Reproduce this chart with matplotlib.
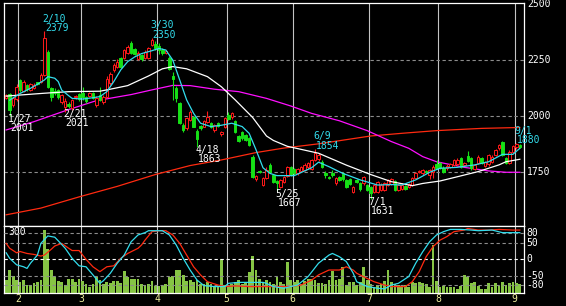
import matplotlib
matplotlib.use("Agg")
import matplotlib.pyplot as plt
from matplotlib.patches import Rectangle
from matplotlib.transforms import offset_copy, blended_transform_factory

# daily candles 2022/01/26 .. 2022/09/02, index 0..148
opens = [
    2080, 2098, 2050, 2078, 2162, 2115, 2140, 2118, 2125, 2152,
    2152, 2184, 2288, 2125, 2115, 2117, 2062, 2040, 2055, 2038,
    2085, 2100, 2103, 2088, 2090, 2103, 2050, 2095, 2062, 2088,
    2150, 2207, 2221, 2262, 2260, 2282, 2327, 2299, 2255, 2275,
    2260, 2260, 2318, 2325, 2312, 2298, 2281, 2262, 2180, 2125,
    2061, 1961, 1946, 1984, 1996, 1936, 1957, 1954, 1976, 1968,
    1939, 1968, 1919, 1954, 2005, 1995, 1980, 1912, 1931, 1916,
    1902, 1820, 1719, 1756, 1693, 1723, 1782, 1738, 1712, 1686,
    1708, 1733, 1772, 1765, 1745, 1757, 1760, 1772, 1763, 1805,
    1808, 1798, 1748, 1730, 1745, 1701, 1730, 1748, 1716, 1719,
    1664, 1716, 1701, 1701, 1693, 1686, 1664, 1664, 1671, 1671,
    1693, 1698, 1711, 1671, 1676, 1690, 1686, 1693, 1723, 1750,
    1745, 1756, 1738, 1750, 1786, 1790, 1771, 1768, 1775, 1783,
    1786, 1812, 1783, 1824, 1812, 1765, 1790, 1815, 1780, 1786,
    1795, 1827, 1857, 1887, 1812, 1790, 1840, 1862, 1872]
highs = [
    2100, 2105, 2085, 2145, 2165, 2160, 2145, 2150, 2150, 2155,
    2195, 2379, 2295, 2130, 2125, 2120, 2100, 2080, 2062, 2078,
    2095, 2105, 2133, 2092, 2110, 2108, 2090, 2133, 2095, 2178,
    2200, 2240, 2255, 2265, 2300, 2318, 2335, 2305, 2290, 2280,
    2295, 2308, 2350, 2335, 2327, 2305, 2298, 2268, 2199, 2135,
    2065, 1968, 1995, 2030, 2000, 1942, 1962, 1985, 2024, 1975,
    1965, 1975, 1935, 1995, 2020, 2018, 1985, 1918, 1935, 1920,
    1906, 1826, 1740, 1762, 1728, 1772, 1790, 1742, 1716, 1720,
    1735, 1780, 1778, 1770, 1768, 1780, 1790, 1795, 1810, 1854,
    1835, 1803, 1755, 1735, 1760, 1728, 1735, 1752, 1720, 1725,
    1690, 1722, 1706, 1735, 1698, 1690, 1698, 1712, 1700, 1706,
    1722, 1725, 1716, 1698, 1700, 1695, 1702, 1730, 1750, 1762,
    1765, 1762, 1765, 1782, 1805, 1795, 1776, 1785, 1792, 1810,
    1812, 1818, 1796, 1845, 1816, 1788, 1826, 1820, 1802, 1832,
    1826, 1856, 1878, 1890, 1816, 1848, 1872, 1880, 1875]
lows = [
    2075, 2001, 2040, 2070, 2110, 2110, 2115, 2112, 2120, 2138,
    2148, 2180, 2125, 2070, 2095, 2075, 2055, 2021, 2035, 2030,
    2078, 2070, 2073, 2060, 2085, 2075, 2040, 2068, 2055, 2080,
    2140, 2200, 2215, 2215, 2255, 2278, 2278, 2275, 2250, 2248,
    2255, 2255, 2312, 2295, 2280, 2275, 2278, 2205, 2073, 2065,
    1965, 1932, 1940, 1978, 1950, 1863, 1940, 1950, 1970, 1948,
    1930, 1950, 1912, 1948, 1985, 1990, 1925, 1884, 1895, 1888,
    1866, 1724, 1712, 1745, 1688, 1718, 1748, 1702, 1667, 1680,
    1702, 1728, 1735, 1740, 1740, 1752, 1755, 1765, 1758, 1800,
    1800, 1770, 1723, 1718, 1730, 1695, 1710, 1712, 1678, 1692,
    1658, 1700, 1668, 1695, 1665, 1631, 1658, 1658, 1665, 1666,
    1688, 1692, 1666, 1666, 1670, 1670, 1680, 1688, 1718, 1745,
    1740, 1745, 1720, 1725, 1766, 1765, 1745, 1762, 1770, 1778,
    1780, 1770, 1778, 1795, 1762, 1760, 1785, 1785, 1775, 1780,
    1790, 1822, 1850, 1822, 1786, 1785, 1835, 1855, 1860]
closes = [
    2095, 2030, 2080, 2132, 2117, 2155, 2120, 2145, 2140, 2143,
    2184, 2348, 2132, 2088, 2103, 2088, 2095, 2070, 2045, 2072,
    2090, 2078, 2088, 2068, 2105, 2080, 2083, 2073, 2088, 2165,
    2190, 2229, 2244, 2222, 2296, 2311, 2282, 2280, 2281, 2255,
    2289, 2303, 2340, 2303, 2296, 2282, 2293, 2210, 2165, 2080,
    1972, 1940, 1991, 2021, 1954, 1897, 1946, 1980, 1995, 1954,
    1961, 1957, 1931, 1991, 1990, 2013, 1931, 1890, 1902, 1894,
    1872, 1730, 1733, 1750, 1723, 1760, 1753, 1708, 1700, 1716,
    1730, 1775, 1740, 1748, 1763, 1775, 1782, 1790, 1805, 1835,
    1827, 1775, 1738, 1723, 1738, 1723, 1716, 1718, 1683, 1698,
    1686, 1708, 1674, 1727, 1671, 1656, 1693, 1708, 1693, 1701,
    1716, 1718, 1671, 1693, 1693, 1676, 1698, 1726, 1745, 1754,
    1760, 1752, 1760, 1775, 1771, 1771, 1750, 1780, 1786, 1805,
    1805, 1775, 1790, 1800, 1768, 1783, 1820, 1790, 1797, 1827,
    1820, 1850, 1872, 1827, 1790, 1842, 1866, 1875, 1864]
volume = [
    67, 117, 84, 67, 55, 64, 38, 38, 50, 55,
    64, 315, 218, 117, 80, 60, 55, 38, 72, 72,
    55, 72, 60, 47, 30, 47, 80, 67, 47, 55,
    50, 59, 60, 50, 109, 80, 72, 72, 72, 47,
    38, 47, 59, 33, 33, 33, 47, 80, 84, 117,
    117, 89, 60, 64, 55, 64, 47, 47, 55, 47,
    37, 30, 168, 38, 37, 47, 55, 67, 47, 55,
    106, 184, 114, 72, 55, 64, 55, 47, 80, 55,
    47, 156, 64, 55, 64, 47, 59, 72, 72, 64,
    50, 50, 43, 64, 111, 67, 70, 130, 38, 55,
    55, 38, 55, 132, 67, 47, 30, 38, 47, 59,
    114, 55, 47, 38, 30, 38, 30, 55, 50, 55,
    50, 47, 30, 240, 60, 30, 33, 30, 30, 30,
    22, 33, 89, 80, 50, 55, 33, 22, 22, 50,
    30, 50, 33, 55, 38, 50, 55, 52, 47]

# moving averages (day index, price)
ma_short_idx = [1, 4, 7, 9, 11, 12, 14, 15, 16, 18, 19, 22, 25, 27, 29, 31, 33, 35, 37, 39,
                42, 44, 46, 48, 50, 52, 54, 56, 59, 62, 65, 68, 70, 72, 74, 76, 78, 83, 88, 90,
                93, 97, 102, 107, 111, 114, 118, 122, 125, 130, 135, 139, 143, 146, 148]
ma_short = [2072, 2102, 2125, 2143, 2162, 2177, 2170, 2155, 2117, 2092, 2080, 2077, 2083, 2088, 2110,
            2155, 2207, 2244, 2265, 2280, 2293, 2303, 2296, 2251, 2162, 2073, 2013, 1969, 1954, 1960,
            1969, 1954, 1924, 1850, 1770, 1745, 1735, 1735, 1770, 1795, 1775, 1745, 1716, 1693, 1695,
            1693, 1716, 1750, 1768, 1772, 1783, 1797, 1830, 1830, 1857]
ma_mid_idx = [0, 4, 11, 18, 27, 30, 35, 41, 45, 48, 52, 58, 62, 66, 71, 75, 77, 81, 90, 98,
              105, 111, 117, 120, 125, 130, 136, 142, 144, 148]
ma_mid = [2090, 2095, 2103, 2110, 2112, 2121, 2137, 2180, 2212, 2222, 2212, 2177, 2132, 2073, 1995,
          1912, 1892, 1866, 1835, 1782, 1740, 1708, 1690, 1700, 1711, 1730, 1753, 1783, 1797, 1808]
ma_long_idx = [0, 8, 18, 26, 36, 42, 48, 53, 60, 67, 75, 82, 88, 96, 104, 111, 116, 120, 124, 132,
               139, 144, 148]
ma_long = [1939, 1976, 2030, 2070, 2097, 2118, 2138, 2137, 2121, 2110, 2080, 2046, 2013, 1980, 1936,
           1887, 1857, 1820, 1797, 1772, 1756, 1750, 1750]
ma_200_idx = [0, 10, 21, 32, 43, 53, 62, 72, 80, 90, 105, 114, 124, 137, 148]
ma_200 = [1560, 1590, 1640, 1687, 1740, 1780, 1805, 1838, 1858, 1877, 1912, 1924, 1936, 1946, 1950]

# oscillator in lower panel (day index, value)
osc_a_idx = [0, 1, 3, 5, 6, 7, 9, 10, 12, 14, 15, 17, 19, 21, 23, 25, 27, 28, 30, 32,
             34, 36, 38, 40, 41, 45, 47, 49, 51, 53, 55, 57, 60, 63, 64, 67, 74, 75, 77, 80,
             84, 87, 90, 93, 94, 96, 98, 100, 101, 104, 107, 109, 111, 113, 116, 118, 120, 122, 124, 126,
             128, 131, 134, 136, 140, 143, 148]
osc_a = [20, 3, -17, -23, -28, -12, 13, 49, 72, 68, 57, 34, 3, -20, -23, -48, -74, -66, -43, -12,
         13, 54, 75, 82, 88, 88, 75, 44, 3, -33, -64, -81, -84, -84, -74, -71, -71, -74, -84, -89,
         -79, -53, -12, 13, 18, 8, -7, -43, -69, -84, -89, -91, -79, -74, -53, -12, 23, 54, 75, 85,
         92, 92, 90, 88, 90, 82, 82]
osc_b_idx = [0, 1, 3, 4, 6, 8, 10, 11, 13, 14, 16, 18, 19, 21, 23, 25, 27, 29, 31, 33,
             35, 38, 39, 40, 42, 44, 46, 48, 50, 52, 54, 56, 58, 61, 63, 66, 70, 82, 85, 88,
             90, 93, 96, 98, 100, 101, 104, 106, 109, 111, 115, 117, 119, 121, 123, 125, 127, 129, 132, 133,
             136, 139, 142, 146, 148]
osc_b = [49, 34, 20, 24, 18, 15, 10, 13, 31, 41, 49, 34, 27, 27, 0, -23, -38, -23, -20, 3,
         18, 34, 44, 59, 85, 88, 88, 75, 49, 13, -23, -48, -69, -79, -84, -82, -84, -84, -79, -64,
         -48, -33, -33, -23, -33, -43, -59, -69, -79, -84, -84, -69, -38, 8, 39, 59, 70, 85, 90, 95,
         90, 90, 92, 90, 90]

month_first = [4, 22, 44, 64, 83, 105, 125, 147]
month_names = ['2', '3', '4', '5', '6', '7', '8', '9']
price_ticks = [2500, 2250, 2000, 1750]
osc_ticks = [80, 50, 0, -50, -80]

hi_labels = [('2/10', 11, 2379), ('3/30', 42, 2350), ('6/9', 89, 1854), ('9/1', 147, 1880)]
lo_labels = [('1/27', 1, 2001), ('2/21', 17, 2021), ('4/18', 55, 1863), ('5/25', 78, 1667),
             ('7/1', 105, 1631)]

RED = '#ff1a1a'
GREEN = '#16e016'
CYAN = '#33dded'
FONT = 'DejaVu Sans Mono'

W, H = 566, 306
fig = plt.figure(figsize=(W / 100, H / 100), dpi=100, facecolor='black')


def px_axes(l, t, r, b):
    a = fig.add_axes([l / W, 1 - b / H, (r - l) / W, (b - t) / H])
    a.set_facecolor('black')
    a.set_xticks([])
    a.set_yticks([])
    for s in a.spines.values():
        s.set_color('white')
        s.set_linewidth(0.9)
    return a


ax = px_axes(4, 3, 524, 226)
ax2 = px_axes(4, 226, 524, 293)
xlim = (-0.63, 149.2)
ax.set_xlim(*xlim)
ax.set_ylim(1510, 2506)
ax2.set_xlim(*xlim)
ax2.set_ylim(0, 335)
osc = ax2.twinx()
osc.set_ylim(-103.7, 102.5)
osc.set_yticks([])
for s in osc.spines.values():
    s.set_visible(False)

# grid
for m in month_first:
    ax.axvline(m - 0.5, color='#c4c4c4', lw=0.8, zorder=1)
    ax2.axvline(m - 0.5, color='#c4c4c4', lw=0.8, zorder=1)
for p in price_ticks[1:]:
    ax.axhline(p, color='#8c8c8c', lw=0.8, dashes=(3, 2.4), zorder=1)
for v in osc_ticks:
    col = 'white' if v == 0 else '#8c8c8c'
    osc.axhline(v, color=col, lw=0.8, dashes=(3, 2.4), zorder=1)

# candles
bw = 0.72
for i in range(len(closes)):
    o, h, l, c = opens[i], highs[i], lows[i], closes[i]
    up = c >= o
    col = RED if up else GREEN
    ax.vlines(i, l, h, color=col, lw=0.8, zorder=3)
    bot = min(o, c)
    ht = max(abs(c - o), 3)
    ax.add_patch(Rectangle((i - bw / 2, bot), bw, ht, facecolor='black' if up else col,
                           edgecolor=col, lw=0.7, zorder=4))

# moving averages
ax.plot(ma_200_idx, ma_200, color='#ff2a10', lw=0.9, zorder=2)
ax.plot(ma_long_idx, ma_long, color='#ff10ff', lw=0.9, zorder=2)
ax.plot(ma_mid_idx, ma_mid, color='white', lw=0.9, zorder=5)
ax.plot(ma_short_idx, ma_short, color=CYAN, lw=0.9, zorder=5)

# volume and oscillator
ax2.bar(range(len(volume)), volume, width=0.8, color='#86c544', zorder=2)
osc.plot(osc_b_idx, osc_b, color='#ff2a10', lw=0.9, zorder=3)
osc.plot(osc_a_idx, osc_a, color=CYAN, lw=0.9, zorder=4)

# right side scale labels
tr = blended_transform_factory(ax.transAxes, ax.transData)
for p in price_ticks:
    ax.text(1.006, p, str(p), transform=tr, color='white', fontsize=7, family=FONT,
            va='center', ha='left', clip_on=False)
tr2 = blended_transform_factory(osc.transAxes, osc.transData)
for v in osc_ticks:
    osc.text(1.005, v, str(v), transform=tr2, color='white', fontsize=7, family=FONT,
             va='center', ha='left', clip_on=False)
ax2.text(0.008, 0.915, '300', transform=ax2.transAxes, color='white', fontsize=7, family=FONT,
         va='center', ha='left')

# month labels
trm = blended_transform_factory(ax2.transData, ax2.transAxes)
for m, name in zip(month_first, month_names):
    ax2.text(m - 0.5, -0.09, name, transform=trm, color='#f0f0a0', fontsize=7, family=FONT,
             va='center', ha='center', clip_on=False)

# high / low annotations
for date, i, p in hi_labels:
    t1 = offset_copy(ax.transData, fig=fig, x=-2, y=9.5, units='dots')
    t2 = offset_copy(ax.transData, fig=fig, x=0.5, y=0, units='dots')
    ax.text(i, p, date, transform=t1, color=CYAN, fontsize=7, family=FONT, va='baseline', zorder=6)
    ax.text(i, p, str(p), transform=t2, color=CYAN, fontsize=7, family=FONT, va='baseline', zorder=6)
for date, i, p in lo_labels:
    t1 = offset_copy(ax.transData, fig=fig, x=-2, y=-5.8, units='dots')
    t2 = offset_copy(ax.transData, fig=fig, x=0.5, y=-14.8, units='dots')
    ax.text(i, p, date, transform=t1, color='white', fontsize=7, family=FONT, va='baseline', zorder=6)
    ax.text(i, p, str(p), transform=t2, color='white', fontsize=7, family=FONT, va='baseline', zorder=6)

fig.savefig('out.png', dpi=100, facecolor='black')
